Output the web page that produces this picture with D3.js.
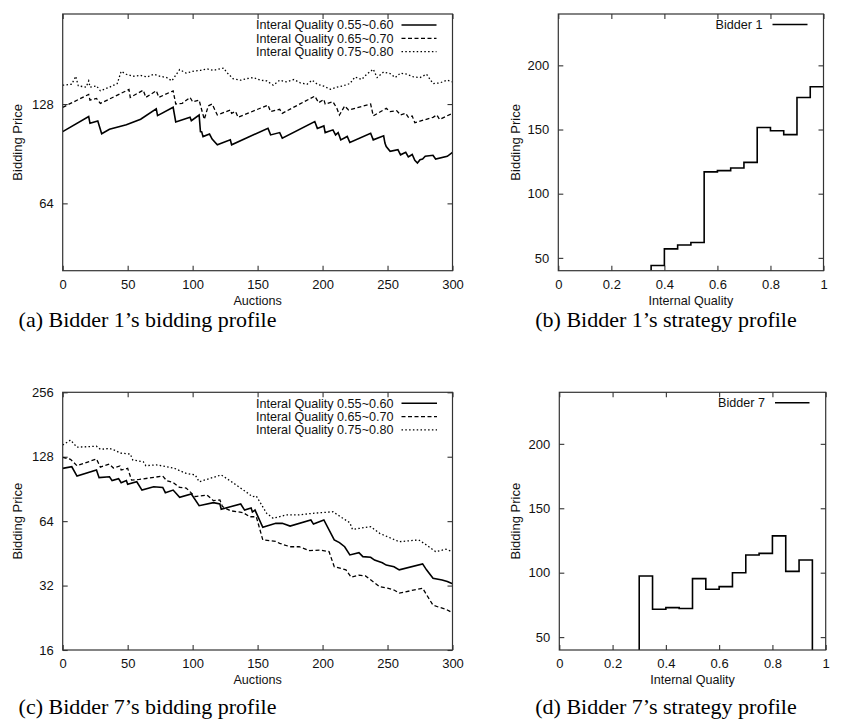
<!DOCTYPE html>
<html><head><meta charset="utf-8">
<script src="https://cdn.jsdelivr.net/npm/d3@7"></script>
<style>
html,body{margin:0;padding:0;background:#fff;}
svg{display:block;}
</style></head>
<body>
<svg id="chart" width="849" height="725"></svg>
<script>
// ---------------- DATA ----------------
// Bidder 1 bidding profile: [auction, bidding price]
const bidder1_q055_060 = [[0,105.6],[20,117.3],[21,111.9],[27,113.8],[30,104.0],[36,107.4],[49,110.7],[60,115.1],[72,123.9],[73,118.1],[85,125.1],[87,113.0],[98,116.7],[99,114.0],[105,118.6],[106,105.6],[107,105.4],[108,102.0],[113,103.8],[115,100.2],[119,96.3],[129,99.7],[130,96.3],[158,108.1],[160,103.2],[167,104.9],[169,100.9],[194,113.3],[196,108.0],[201,109.9],[202,104.9],[208,106.9],[210,103.2],[212,104.9],[214,99.7],[219,102.1],[221,97.9],[237,104.4],[239,99.7],[247,102.6],[248,97.5],[249,95.1],[252,92.0],[258,93.1],[260,89.8],[264,91.4],[266,88.5],[269,90.0],[271,86.4],[273,84.8],[275,86.8],[277,87.2],[279,88.9],[285,89.5],[287,87.2],[296,88.9],[300,91.4]];
const bidder1_q065_070 = [[0,125.1],[20,136.9],[21,131.6],[26,133.1],[29,128.6],[51,141.7],[52,134.1],[62,141.0],[64,134.1],[72,140.4],[74,134.1],[85,140.4],[87,128.0],[92,128.6],[98,134.1],[100,130.0],[105,131.6],[107,122.8],[109,115.0],[112,126.3],[115,128.0],[119,118.6],[129,122.8],[130,120.0],[133,121.5],[135,116.7],[158,127.1],[160,121.4],[167,123.4],[169,120.0],[194,135.3],[197,129.2],[201,132.2],[202,128.0],[208,130.1],[211,124.2],[213,118.6],[217,126.3],[220,122.8],[237,128.0],[239,117.9],[249,124.2],[252,121.4],[257,122.3],[260,118.6],[264,120.0],[266,116.7],[269,117.8],[271,112.4],[285,116.7],[288,118.6],[290,115.0],[300,120.0]];
const bidder1_q075_080 = [[0,146.0],[7,147.0],[10,155.4],[12,145.4],[18,144.0],[20,150.5],[21,144.0],[26,145.4],[29,140.4],[36,144.0],[42,147.7],[45,160.9],[49,157.6],[54,155.4],[60,156.3],[65,154.7],[70,157.6],[75,155.4],[80,154.0],[84,150.5],[90,162.8],[95,158.9],[101,161.2],[106,161.9],[111,163.7],[116,161.9],[121,163.7],[124,164.5],[126,160.1],[131,152.9],[137,151.2],[142,153.0],[147,154.0],[152,151.2],[157,150.5],[162,146.0],[167,151.2],[172,149.5],[178,151.9],[183,148.3],[188,147.0],[192,151.2],[196,147.0],[201,145.0],[206,141.9],[211,144.0],[216,145.4],[221,147.7],[225,154.7],[230,151.9],[234,157.6],[239,163.3],[242,154.0],[247,160.1],[252,158.3],[256,154.0],[260,158.9],[265,157.6],[270,154.7],[275,154.0],[280,157.6],[285,147.7],[290,148.3],[296,151.2],[300,149.5]];

// Bidder 7 bidding profile
const bidder7_q055_060 = [[0,112.9],[7,114.9],[11,103.9],[26,110.9],[28,102.2],[36,103.2],[38,99.0],[43,101.1],[45,96.8],[49,99.0],[50,95.1],[57,97.8],[61,89.4],[70,92.7],[77,92.0],[79,86.9],[85,89.4],[90,82.7],[99,85.7],[105,75.6],[116,78.1],[121,77.0],[122,72.8],[137,77.0],[140,72.1],[145,73.7],[146,70.6],[148,72.1],[154,59.9],[164,62.5],[169,62.5],[175,60.7],[191,64.8],[193,62.0],[201,64.8],[209,52.3],[213,50.8],[217,48.6],[221,44.5],[228,45.6],[231,43.7],[237,43.4],[240,42.1],[246,40.9],[249,39.9],[255,39.2],[259,37.9],[277,40.4],[280,37.9],[285,34.6],[292,34.0],[296,33.4],[300,32.6]];
const bidder7_q065_070 = [[0,127.1],[6,124.5],[11,116.2],[26,124.9],[29,114.5],[36,118.2],[39,113.3],[44,115.9],[45,110.9],[50,112.9],[53,99.6],[59,100.3],[77,103.9],[80,99.0],[85,97.0],[90,92.0],[95,91.4],[102,83.3],[111,84.8],[116,79.8],[121,80.3],[123,74.8],[129,71.6],[139,70.1],[144,67.1],[149,67.1],[154,52.3],[164,51.5],[167,50.4],[175,48.6],[182,48.6],[190,46.6],[198,46.9],[205,46.1],[209,39.2],[218,37.9],[222,35.0],[228,35.8],[233,35.5],[244,31.6],[250,31.1],[255,30.5],[259,29.5],[277,31.1],[285,25.9],[290,25.3],[295,24.8],[300,23.9]];
const bidder7_q075_080 = [[0,145.1],[6,153.1],[11,141.8],[26,143.3],[29,138.5],[36,140.0],[41,136.6],[44,133.2],[52,131.7],[54,123.5],[62,121.3],[64,116.2],[72,117.3],[80,114.9],[86,113.0],[90,110.2],[95,107.0],[102,105.2],[105,97.8],[116,102.5],[122,105.2],[131,96.8],[141,87.8],[146,83.3],[149,83.9],[157,69.6],[162,66.0],[172,68.4],[182,68.4],[192,69.6],[208,70.8],[213,67.6],[221,62.9],[223,58.6],[228,59.2],[237,60.3],[244,56.1],[251,53.8],[259,51.3],[274,52.3],[280,49.5],[287,46.1],[295,47.3],[300,46.1]];

// Strategy profiles (bins of width 0.05, start of bin -> price)
const bidder1_binStart = [0.35,0.40,0.45,0.50,0.55,0.60,0.65,0.70,0.75,0.80,0.85,0.90,0.95];
const bidder1_price    = [44,57,60,62,117,118,120,124.4,151.6,149,146,175,183.3];
const bidder7_binStart = [0.30,0.35,0.40,0.45,0.50,0.55,0.60,0.65,0.70,0.75,0.80,0.85,0.90];
const bidder7_price    = [97.4,71.6,72.9,72.2,95.4,87.1,89.2,100,113.7,115,128.6,101,109.8];

const auctionTicks = [0,50,100,150,200,250,300];
const qualityTicks = [0,0.2,0.4,0.6,0.8,1];
const priceTicksA = [64,128];
const priceTicksC = [16,32,64,128,256];
const priceTicksLin = [50,100,150,200];
const seriesLabels = ["Interal Quality 0.55~0.60","Interal Quality 0.65~0.70","Interal Quality 0.75~0.80"];
const captions = ["(a) Bidder 1\u2019s bidding profile","(b) Bidder 1\u2019s strategy profile","(c) Bidder 7\u2019s bidding profile","(d) Bidder 7\u2019s strategy profile"];

// ---------------- DRAW ----------------
const svg = d3.select("#chart");
svg.append("rect").attr("width",849).attr("height",725).attr("fill","#fff");
const SANS = "'Liberation Sans', Arial, Helvetica, sans-serif";
const SERIF = "'Liberation Serif', 'DejaVu Serif', serif";
const styles = [
  {dash:null},
  {dash:"4,2.5"},
  {dash:"1.5,2.3"}
];
let clipId = 0;

function drawPanel(cfg){
  const g = svg.append("g");
  const x = d3.scaleLinear().domain(cfg.xDomain).range([cfg.left,cfg.right]);
  const y = (cfg.log ? d3.scaleLog().base(2) : d3.scaleLinear()).domain(cfg.yDomain).range([cfg.bottom,cfg.top]);
  const id = "clip"+(clipId++);
  svg.append("clipPath").attr("id",id).append("rect")
    .attr("x",cfg.left).attr("y",cfg.top).attr("width",cfg.right-cfg.left).attr("height",cfg.bottom-cfg.top);

  const tl = 5;
  const fmtX = cfg.xFmt || (d=>d);
  const axB = d3.axisBottom(x).tickValues(cfg.xTicks).tickSizeInner(-tl).tickSizeOuter(0).tickPadding(9).tickFormat(fmtX);
  const axT = d3.axisTop(x).tickValues(cfg.xTicks).tickSizeInner(-tl).tickSizeOuter(0).tickFormat("");
  const axL = d3.axisLeft(y).tickValues(cfg.yTicks).tickSizeInner(-tl).tickSizeOuter(0).tickPadding(9).tickFormat(d=>d);
  const axR = d3.axisRight(y).tickValues(cfg.yTicks).tickSizeInner(-tl).tickSizeOuter(0).tickFormat("");
  const gb = g.append("g").attr("transform",`translate(0,${cfg.bottom})`).call(axB);
  const gt = g.append("g").attr("transform",`translate(0,${cfg.top})`).call(axT);
  const gl = g.append("g").attr("transform",`translate(${cfg.left},0)`).call(axL);
  const gr = g.append("g").attr("transform",`translate(${cfg.right},0)`).call(axR);
  [gb,gt,gl,gr].forEach(a=>{
    a.select(".domain").remove();
    a.selectAll("line").attr("stroke","#333").attr("stroke-width",1.1);
    a.selectAll("text").attr("font-family",SANS).attr("font-size",13).attr("fill","#111");
  });
  gb.selectAll("text").attr("dy","0.71em").attr("y",9);

  const lg = g.append("g").attr("clip-path",`url(#${id})`);
  if(cfg.series){
    const line = d3.line().x(d=>x(d[0])).y(d=>y(d[1]));
    cfg.series.forEach((s,i)=>{
      lg.append("path").datum(s).attr("d",line).attr("fill","none")
        .attr("stroke","#000").attr("stroke-width",i===0?1.6:1.3)
        .attr("stroke-linejoin","miter")
        .attr("stroke-dasharray",styles[i].dash);
    });
  }
  if(cfg.bins){
    const pts = [[cfg.bins[0][0], cfg.yDomain[0]]].concat(cfg.bins);
    pts.push([cfg.bins[cfg.bins.length-1][0]+0.05, cfg.endDrop ? cfg.yDomain[0] : cfg.bins[cfg.bins.length-1][1]]);
    const step = d3.line().x(d=>x(d[0])).y(d=>y(d[1])).curve(d3.curveStepAfter);
    lg.append("path").datum(pts).attr("d",step).attr("fill","none").attr("stroke","#000").attr("stroke-width",1.6);
  }

  g.append("rect").attr("x",cfg.left).attr("y",cfg.top).attr("width",cfg.right-cfg.left).attr("height",cfg.bottom-cfg.top)
    .attr("fill","none").attr("stroke","#333").attr("stroke-width",1.2);

  cfg.legend.forEach((t,i)=>{
    const ly = cfg.legY + i*13.3;
    g.append("text").attr("x",cfg.legTextX).attr("y",ly).attr("dy","0.35em").attr("text-anchor","end")
      .attr("font-family",SANS).attr("font-size",12.6).attr("fill","#111").text(t);
    g.append("line").attr("x1",cfg.legX1).attr("x2",cfg.legX2).attr("y1",ly).attr("y2",ly)
      .attr("stroke","#000").attr("stroke-width",i===0?1.6:1.3).attr("stroke-dasharray",styles[i].dash);
  });

  g.append("text").attr("x",(cfg.left+cfg.right)/2).attr("y",cfg.bottom+30).attr("dy","0.35em").attr("text-anchor","middle")
    .attr("font-family",SANS).attr("font-size",12.6).attr("fill","#111").text(cfg.xLabel);
  g.append("text").attr("transform",`translate(${cfg.yLabelX},${(cfg.top+cfg.bottom)/2}) rotate(-90)`)
    .attr("dy","0.35em").attr("text-anchor","middle")
    .attr("font-family",SANS).attr("font-size",13).attr("fill","#111").text("Bidding Price");
  g.append("text").attr("x",cfg.capX).attr("y",cfg.capY).attr("text-anchor","middle")
    .attr("font-family",SERIF).attr("font-size",22).attr("fill","#000").text(cfg.caption);
}

drawPanel({left:62.7,right:452.5,top:14,bottom:270.7,xDomain:[0,300],yDomain:[40,240],log:true,
  xTicks:auctionTicks,yTicks:priceTicksA,series:[bidder1_q055_060,bidder1_q065_070,bidder1_q075_080],
  legend:seriesLabels,legY:25,legTextX:393.5,legX1:401.5,legX2:436.5,
  xLabel:"Auctions",yLabelX:17,caption:captions[0],capX:147.5,capY:327});
drawPanel({left:558.3,right:823.5,top:14,bottom:270.7,xDomain:[0,1],yDomain:[40,240],log:false,
  xTicks:qualityTicks,yTicks:priceTicksLin,bins:d3.zip(bidder1_binStart,bidder1_price),endDrop:false,
  legend:["Bidder 1"],legY:24.5,legTextX:762.5,legX1:772.5,legX2:807.5,
  xLabel:"Internal Quality",yLabelX:515,caption:captions[1],capX:666,capY:327});
drawPanel({left:62.7,right:452.5,top:392.3,bottom:650,xDomain:[0,300],yDomain:[16,256],log:true,
  xTicks:auctionTicks,yTicks:priceTicksC,series:[bidder7_q055_060,bidder7_q065_070,bidder7_q075_080],
  legend:seriesLabels,legY:403.3,legTextX:393.5,legX1:401.5,legX2:437,
  xLabel:"Auctions",yLabelX:17,caption:captions[2],capX:147.5,capY:714});
drawPanel({left:559.3,right:825.7,top:392.3,bottom:650,xDomain:[0,1],yDomain:[40,240],log:false,
  xTicks:qualityTicks,yTicks:priceTicksLin,bins:d3.zip(bidder7_binStart,bidder7_price),endDrop:true,
  legend:["Bidder 7"],legY:402.7,legTextX:765,legX1:775,legX2:809.5,
  xLabel:"Internal Quality",yLabelX:515,caption:captions[3],capX:666,capY:714});
</script>
</body></html>
